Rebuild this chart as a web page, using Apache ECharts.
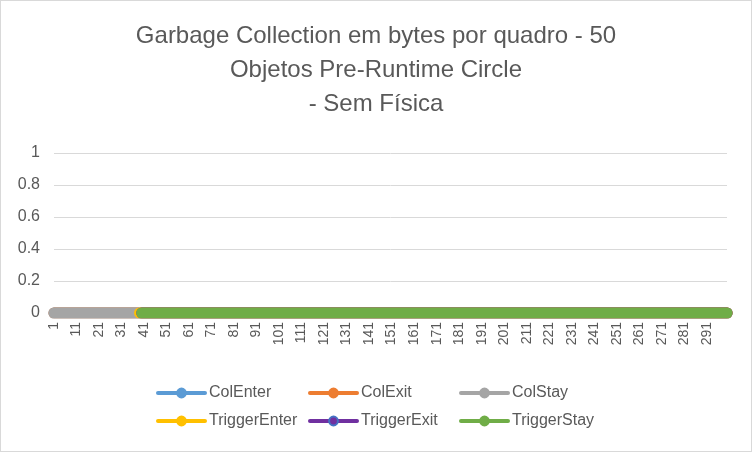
<!DOCTYPE html>
<html>
<head>
<meta charset="utf-8">
<script src="https://cdn.jsdelivr.net/npm/echarts@6/dist/echarts.min.js"></script>
<style>
html, body { margin: 0; padding: 0; background: #fff; }
#chart { width: 752px; height: 452px; box-sizing: border-box; border: 1px solid #d9d9d9; }
</style>
</head>
<body>
<div id="chart"></div>
<script>
var frameCount = 300;
var seriesNames = ['ColEnter', 'ColExit', 'ColStay', 'TriggerEnter', 'TriggerExit', 'TriggerStay'];
var seriesColors = ['#5B9BD5', '#ED7D31', '#A5A5A5', '#FFC000', '#7030A0', '#70AD47'];
var seriesFirstFrame = [1, 1, 1, 39, 40, 40]; // frame where each line begins
var seriesValue = [0, 0, 0, 0, 0, 0];          // constant value read for each series
var yTicks = [0, 0.2, 0.4, 0.6, 0.8, 1];

var frames = [];
for (var f = 1; f <= frameCount; f++) frames.push(String(f));

function buildData(first, value) {
	var arr = [];
	for (var i = 1; i <= frameCount; i++) {
		arr.push(i < first ? null : value);
	}
	return arr;
}

// legend positions like excel (3 columns x 2 rows)
var legendCols = [155, 307, 458];
var legendRows = [384, 412];

var txt = '#595959';
var series = [], legends = [];
seriesNames.forEach(function(name, i) {
	series.push({
		name: name,
		type: 'line',
		data: buildData(seriesFirstFrame[i], seriesValue[i]),
		symbol: 'circle',
		symbolSize: 9,
		showSymbol: false,
		connectNulls: false,
		animation: false,
		itemStyle: { color: seriesColors[i], borderColor: i == 4 ? '#4472C4' : seriesColors[i], borderWidth: 1 },
		lineStyle: { color: seriesColors[i], width: 11, cap: 'round', join: 'round' }
	});
	legends.push({
		data: [name],
		left: legendCols[i % 3],
		top: legendRows[Math.floor(i / 3)],
		padding: 0,
		itemWidth: 47,
		itemHeight: 11,
		itemGap: 4,
		lineStyle: { width: 4 },
		textStyle: { color: txt, fontSize: 16, fontFamily: 'Liberation Sans', padding: [0, 0, 0, -1] },
		selectedMode: false
	});
});

var myChart = echarts.init(document.getElementById('chart'), null, { renderer: 'canvas' });
myChart.setOption({
	animation: false,
	title: {
		text: 'Garbage Collection em bytes por quadro - 50\nObjetos Pre-Runtime Circle\n- Sem Física',
		left: 'center',
		top: 13,
		textStyle: { color: txt, fontSize: 24, fontWeight: 'normal', lineHeight: 34, fontFamily: 'Liberation Sans' }
	},
	legend: legends,
	grid: { left: 53, right: 24, top: 152, bottom: 138, containLabel: false },
	xAxis: {
		type: 'category',
		data: frames,
		boundaryGap: false,
		axisLine: { lineStyle: { color: '#d9d9d9' } },
		axisTick: { show: false },
		axisLabel: { interval: 9, rotate: 90, color: txt, fontSize: 14, fontFamily: 'Liberation Sans', margin: 9 }
	},
	yAxis: {
		type: 'value',
		min: yTicks[0],
		max: yTicks[yTicks.length - 1],
		interval: 0.2,
		axisLine: { show: false },
		axisTick: { show: false },
		splitLine: { lineStyle: { color: '#d9d9d9', width: 1 } },
		axisLabel: { color: txt, fontSize: 16, fontFamily: 'Liberation Sans', margin: 14 }
	},
	series: series
});
</script>
</body>
</html>
